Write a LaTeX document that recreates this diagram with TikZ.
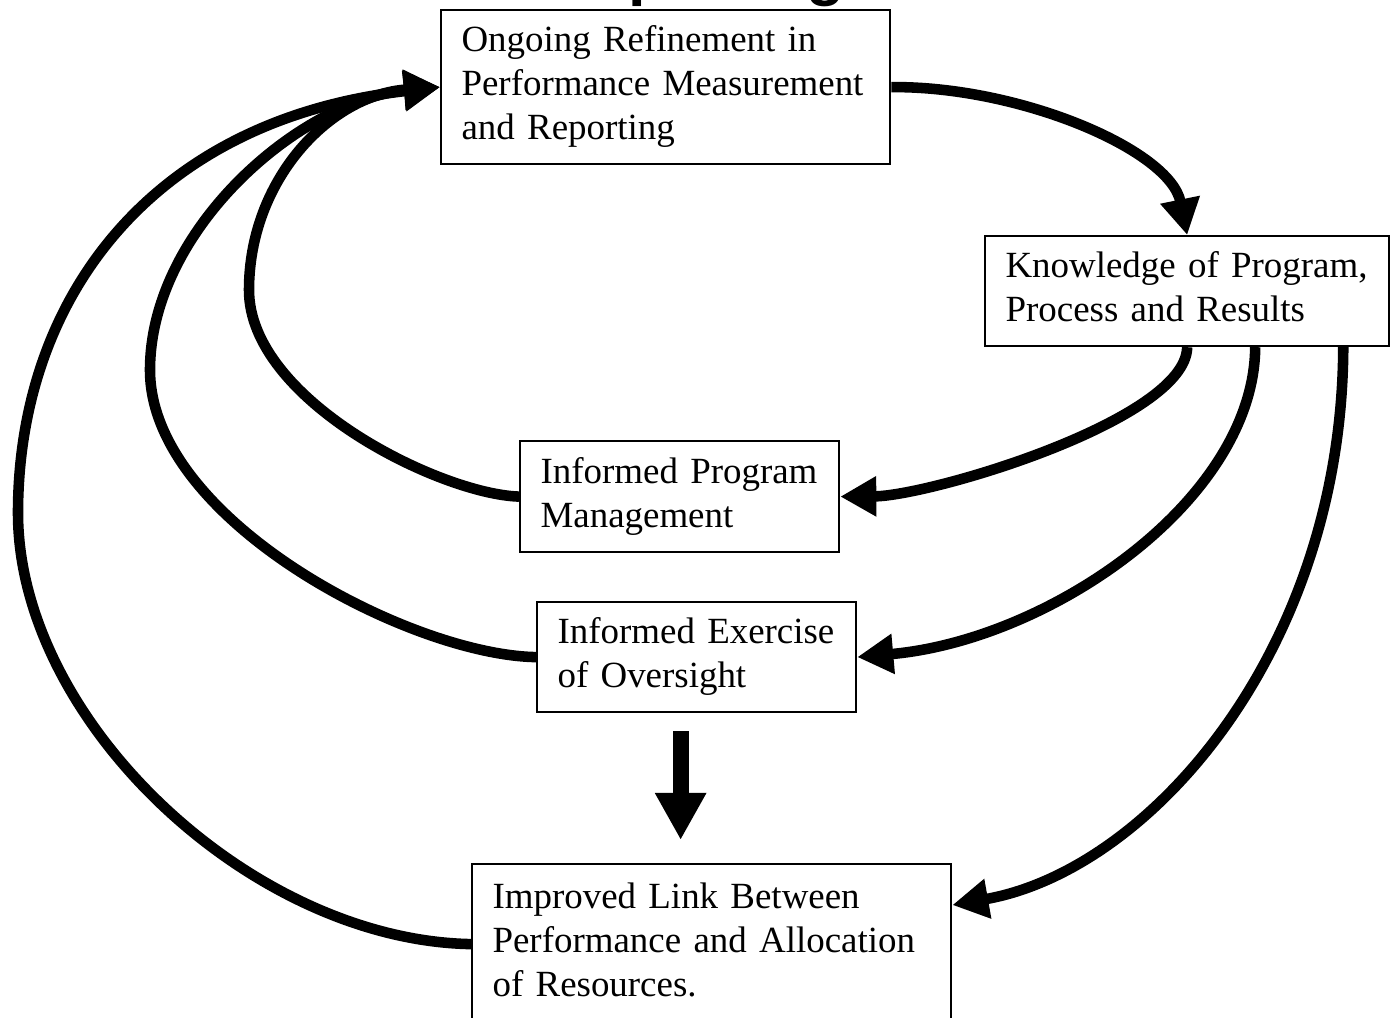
\documentclass[tikz,border=0pt]{standalone}
\usepackage{fontspec}
\setmainfont{Liberation Serif}
\newfontfamily\titlefont{Liberation Sans}
\usetikzlibrary{arrows.meta}

\begin{document}
\begin{tikzpicture}[x=0.01cm,y=-0.01cm,
  box/.style={draw,line width=0.6pt,anchor=north west,align=left,inner xsep=0.205cm,inner ysep=0pt,
    font=\fontsize{10.5}{12.5}\selectfont,execute at begin node=\strut,execute at end node=\strut},
  flow/.style={line width=3pt,-{Triangle[length=0.36cm,width=0.38cm]}},
  bigflow/.style={line width=0.16cm,-{Triangle[length=0.47cm,width=0.48cm]}}]
\useasboundingbox (0,0) rectangle (1390,1017);
\clip (0,0) rectangle (1390,1017);

\node[anchor=base west,inner sep=0pt,font=\titlefont\bfseries\fontsize{17.9}{20}\selectfont] (title) at (547,-7) {Reporting};

\node[box,text width=4.08cm,minimum height=1.54cm] (top) at (440,9) {Ongoing Refinement in\\Performance Measurement\\and Reporting};
\node[box,text width=3.63cm,minimum height=1.10cm] (kn) at (984,235) {Knowledge of Program,\\Process and Results};
\node[box,text width=2.78cm,minimum height=1.11cm] (pm) at (519,440) {Informed Program\\Management};
\node[box,text width=2.78cm,minimum height=1.10cm] (ovs) at (536,601) {Informed Exercise\\of Oversight};
\node[box,text width=4.38cm,minimum height=1.60cm] (link) at (471,863) {Improved Link Between\\Performance and Allocation\\of Resources.};

% forward
\draw[flow] (top.east) .. controls (1020,86) and (1170,150) .. (kn.north);
\draw[flow] (kn.south) .. controls (1186,420) and (930,496) .. (pm.east);
\draw[flow] ([xshift=0.68cm]kn.south) .. controls (1254,500) and (1050,640) .. (ovs.east);
\draw[flow] ([xshift=1.56cm]kn.south) .. controls (1342,650) and (1150,870) .. ([yshift=-0.42cm]link.north east);

% back to the top
\draw[flow] (pm.west) .. controls (440,494) and (249,400) .. (249,290) .. controls (249,180) and (330,95) .. (top.west);
\draw[flow] (ovs.west) .. controls (410,655) and (150,520) .. (150,370) .. controls (150,230) and (300,100) .. (top.west);
\draw[flow] (link.west) .. controls (250,940) and (18,720) .. (18,513) .. controls (18,300) and (150,120) .. (top.west);

\coordinate (e1) at ([xshift=-0.16cm,yshift=-0.18cm]ovs.south);
\draw[bigflow,shorten >=0.23cm] (e1) -- (e1 |- link.north);

\end{tikzpicture}
\end{document}
